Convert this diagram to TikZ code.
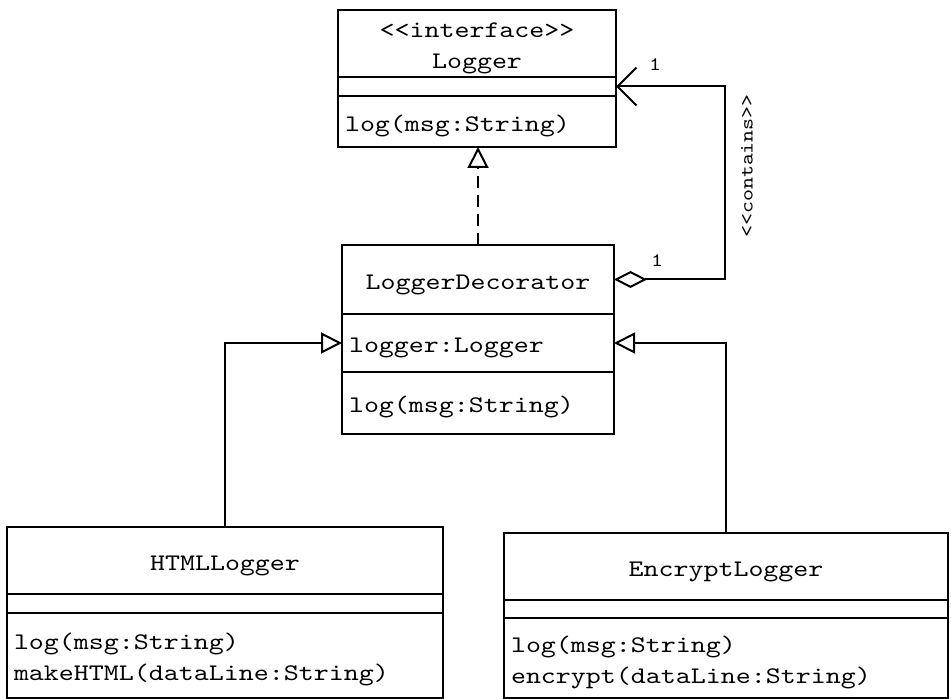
\documentclass[tikz,border=0pt]{standalone}
\usepackage{fontspec}
\setmonofont{lmmono10-regular.otf}[FakeStretch=1.2]
\usepackage{tikz}
\usetikzlibrary{positioning,arrows.meta}
\newcommand{\umlfont}{\ttfamily\fontsize{11.9}{15.5}\selectfont}
\newcommand{\umlsmall}{\ttfamily\fontsize{9.5}{11}\selectfont}
\newcommand{\umlstrut}{\rule{0pt}{12.5pt}}
\tikzset{
  umlbox/.style={draw,line width=1pt,outer sep=0pt,inner xsep=3.5pt,inner ysep=0pt,font=\umlfont},
  clsname/.style={umlbox,align=center,execute at begin node=\umlstrut},
  clsbody/.style={umlbox,align=left,execute at begin node=\umlstrut},
  clsempty/.style={umlbox},
}

\begin{document}
\begin{tikzpicture}[
  x=0.5pt,y=-0.5pt,
  line width=1pt,
  mult/.style={font=\umlsmall,inner sep=0pt},
  realize/.style={dash pattern=on 6pt off 3.5pt,-{Triangle[open,length=10.5pt,width=10.5pt]}},
  general/.style={-{Triangle[open,length=10.5pt,width=10.5pt]}},
  aggr/.style={{Diamond[open,length=16.5pt,width=8.5pt]}-{Straight Barb[length=9.5pt,width=19pt]}}
]
\useasboundingbox (0,0) rectangle (951,699);

\node[clsname,text width=132pt,minimum height=33.5pt] (logger) at (477,43.5) {<<interface>>\\Logger};
\node[clsempty,text width=132pt,minimum height=9.5pt,below=0pt of logger] (loggerA) {};
\node[clsbody,text width=132pt,minimum height=25.5pt,below=0pt of loggerA] (loggerM) {log(msg:String)};

\node[clsname,text width=129pt,minimum height=34.5pt] (dec) at (478,279.5) {LoggerDecorator};
\node[clsbody,text width=129pt,minimum height=29pt,below=0pt of dec] (decA) {logger:Logger};
\node[clsbody,text width=129pt,minimum height=31pt,below=0pt of decA] (decM) {log(msg:String)};

\node[clsname,text width=211pt,minimum height=33.5pt] (html) at (225,560.5) {HTMLLogger};
\node[clsempty,text width=211pt,minimum height=9.5pt,below=0pt of html] (htmlA) {};
\node[clsbody,text width=211pt,minimum height=42.5pt,below=0pt of htmlA] (htmlM) {log(msg:String)\\makeHTML(dataLine:String)};

\node[clsname,text width=215pt,minimum height=33.5pt] (enc) at (726,566.5) {EncryptLogger};
\node[clsempty,text width=215pt,minimum height=9pt,below=0pt of enc] (encA) {};
\node[clsbody,text width=215pt,minimum height=40pt,below=0pt of encA] (encM) {log(msg:String)\\encrypt(dataLine:String)};

\coordinate (bend) at (725,86.5);

\draw[realize] (dec.north) -- (dec.north |- loggerM.south);
\draw[aggr] (dec.east) -| (bend) -- (loggerA.east);
\draw[general] (html.north) |- (decA.west);
\draw[general] (enc.north) |- (decA.east);

\node[mult] (m1) at (655,65) {1};
\node[mult] (m2) at (657,261) {1};
\node[mult,rotate=90] (contains) at (747,166) {<<contains>>};

\end{tikzpicture}
\end{document}
